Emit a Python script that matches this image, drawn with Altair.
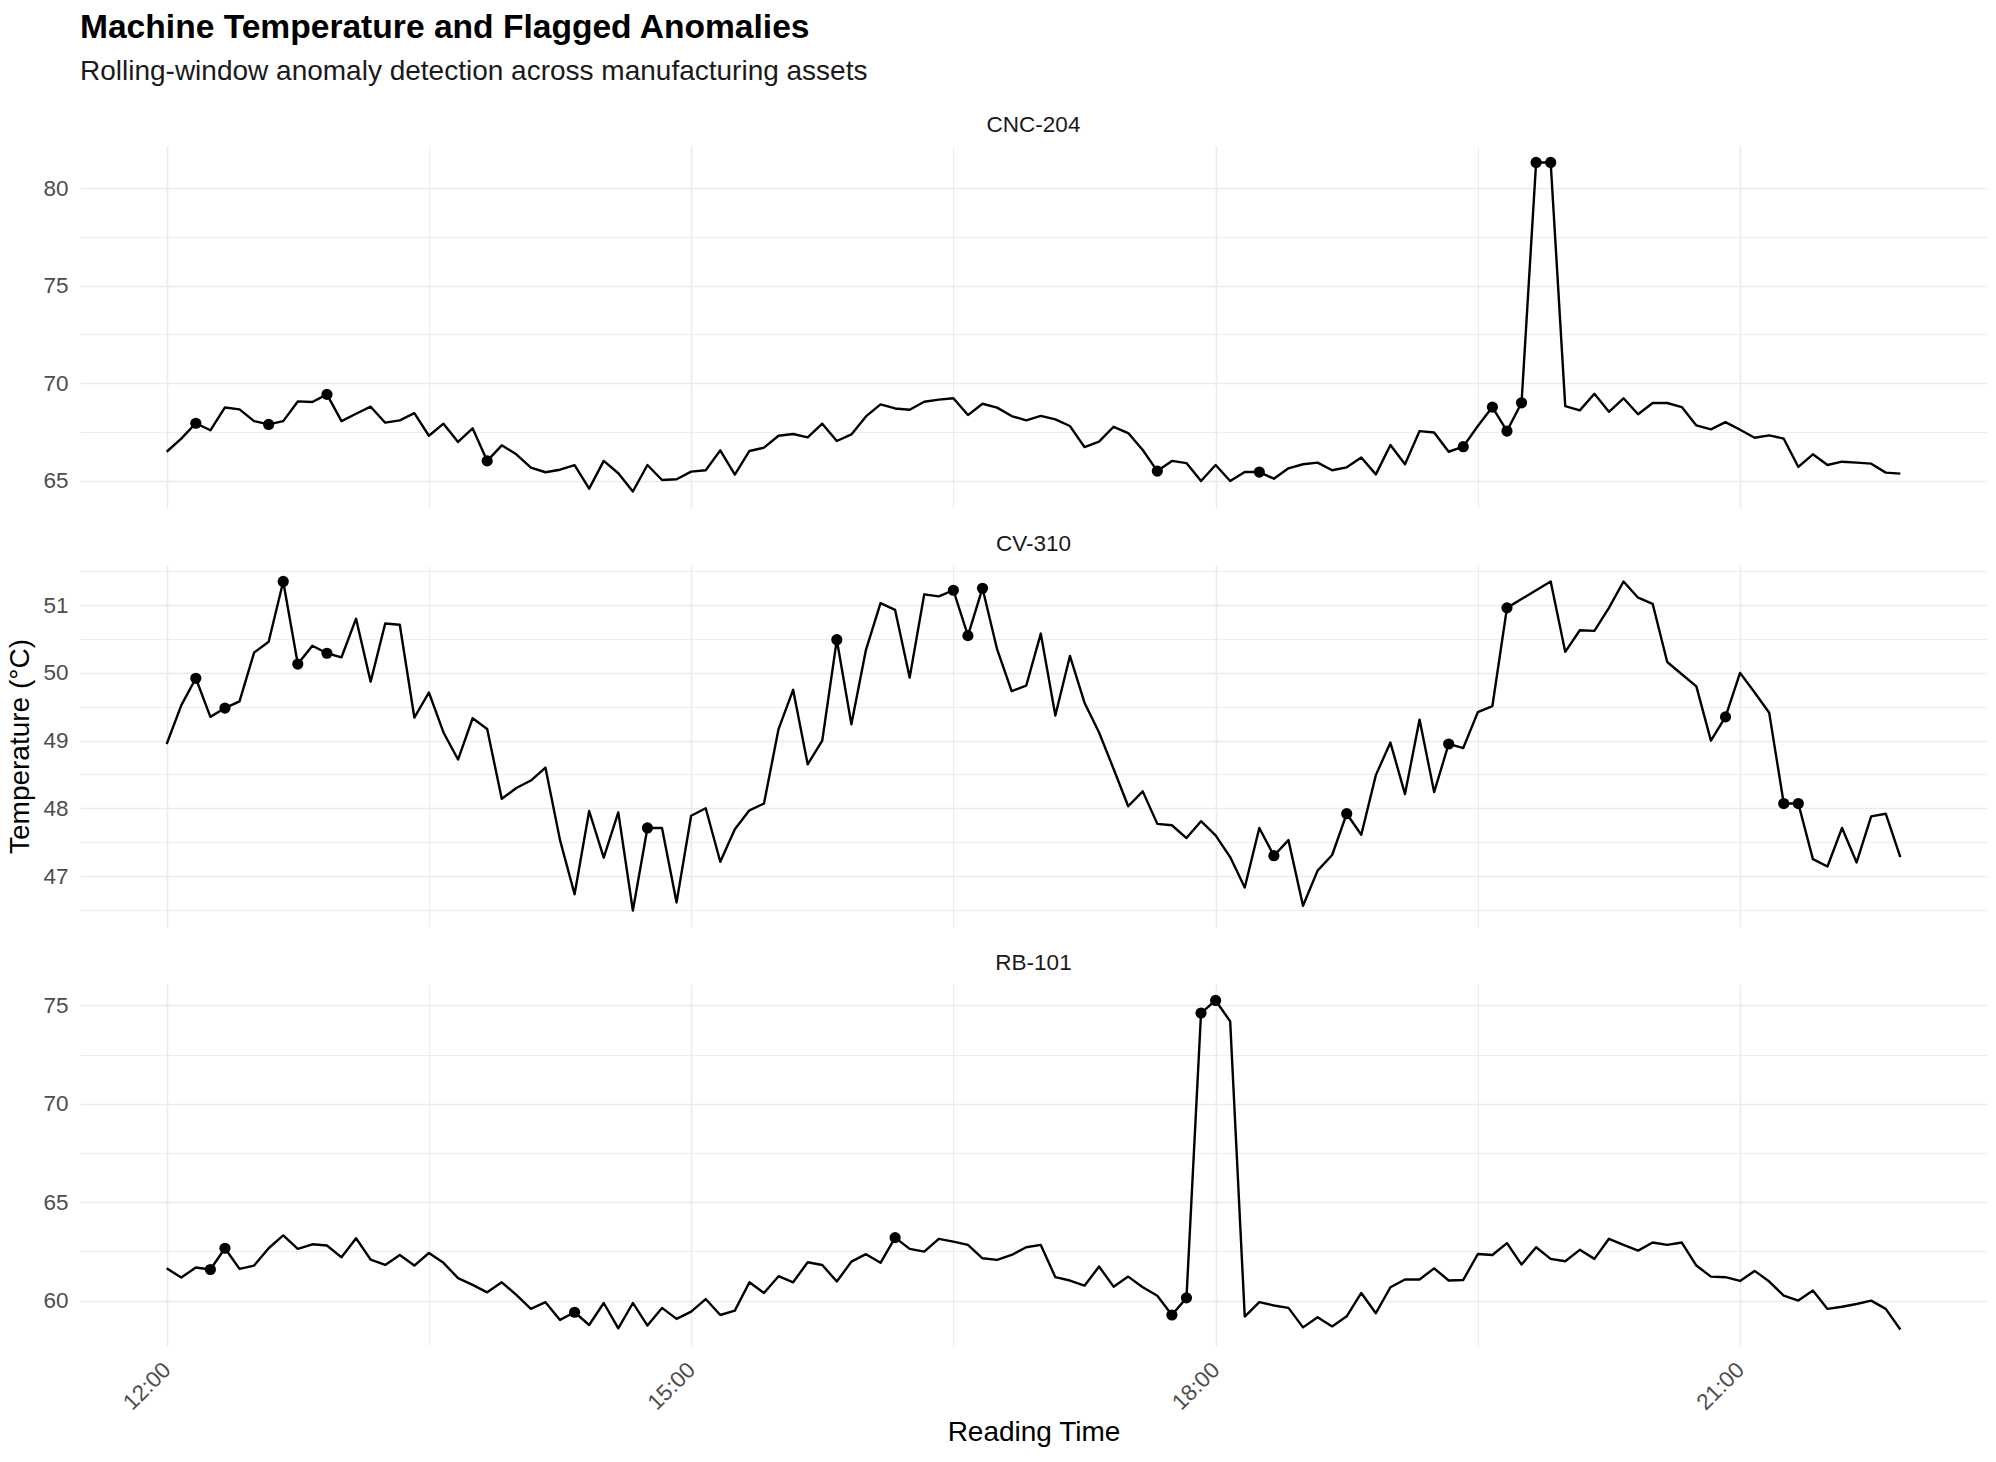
import altair as alt
import pandas as pd

FONT = "Liberation Sans"

# Readings every 5 minutes from 12:00 to 21:55
reading_start = "2024-03-15 12:00"
reading_step = "5min"

cnc_204_temp = [
    66.48, 67.15, 67.94, 67.58, 68.75, 68.65, 68.05, 67.88, 68.05, 69.06,
    69.03, 69.42, 68.05, 68.43, 68.79, 67.97, 68.09, 68.46, 67.30, 67.92,
    66.98, 67.68, 66.01, 66.81, 66.35, 65.67, 65.43, 65.56, 65.79, 64.59,
    66.01, 65.38, 64.44, 65.80, 65.03, 65.07, 65.46, 65.53, 66.55, 65.31,
    66.52, 66.69, 67.30, 67.39, 67.22, 67.92, 67.03, 67.37, 68.29, 68.91,
    68.70, 68.63, 69.04, 69.15, 69.22, 68.36, 68.94, 68.74, 68.31, 68.09,
    68.32, 68.14, 67.80, 66.72, 67.00, 67.76, 67.44, 66.57, 65.49, 66.01,
    65.90, 64.98, 65.80, 64.98, 65.44, 65.44, 65.10, 65.63, 65.84, 65.92,
    65.53, 65.68, 66.19, 65.32, 66.83, 65.84, 67.54, 67.47, 66.48, 66.74,
    67.80, 68.77, 67.54, 68.99, 81.31, 81.31, 68.82, 68.60, 69.45, 68.53,
    69.22, 68.40, 68.98, 68.98, 68.77, 67.83, 67.63, 68.00, 67.61, 67.20,
    67.32, 67.15, 65.70, 66.35, 65.80, 65.97, 65.92, 65.87, 65.41, 65.36,
]

cv_310_temp = [
    48.95, 49.52, 49.92, 49.35, 49.48, 49.58, 50.30, 50.46, 51.35, 50.13,
    50.40, 50.29, 50.23, 50.80, 49.87, 50.73, 50.71, 49.34, 49.71, 49.12,
    48.72, 49.33, 49.17, 48.14, 48.30, 48.41, 48.60, 47.53, 46.73, 47.96,
    47.27, 47.94, 46.49, 47.71, 47.71, 46.61, 47.89, 48.00, 47.21, 47.69,
    47.97, 48.07, 49.17, 49.75, 48.65, 49.00, 50.49, 49.24, 50.34, 51.03,
    50.93, 49.93, 51.16, 51.13, 51.22, 50.55, 51.25, 50.35, 49.73, 49.81,
    50.58, 49.37, 50.25, 49.56, 49.12, 48.58, 48.03, 48.25, 47.77, 47.75,
    47.56, 47.81, 47.60, 47.28, 46.83, 47.71, 47.30, 47.53, 46.56, 47.08,
    47.31, 47.92, 47.61, 48.49, 48.97, 48.21, 49.31, 48.24, 48.95, 48.89,
    49.42, 49.51, 50.96, 51.09, 51.22, 51.35, 50.31, 50.63, 50.62, 50.96,
    51.35, 51.11, 51.02, 50.16, 49.98, 49.80, 49.00, 49.35, 50.00, 49.71,
    49.41, 48.07, 48.07, 47.25, 47.14, 47.71, 47.20, 47.88, 47.92, 47.28,
]

rb_101_temp = [
    61.64, 61.17, 61.68, 61.58, 62.66, 61.61, 61.78, 62.66, 63.31, 62.63,
    62.86, 62.80, 62.20, 63.17, 62.08, 61.81, 62.32, 61.78, 62.42, 61.92,
    61.14, 60.80, 60.42, 60.93, 60.29, 59.58, 59.92, 59.02, 59.41, 58.76,
    59.88, 58.59, 59.88, 58.73, 59.63, 59.07, 59.44, 60.08, 59.27, 59.49,
    60.93, 60.39, 61.24, 60.93, 61.95, 61.81, 60.97, 61.98, 62.36, 61.92,
    63.20, 62.63, 62.49, 63.14, 63.00, 62.83, 62.15, 62.07, 62.32, 62.71,
    62.83, 61.19, 61.02, 60.76, 61.73, 60.71, 61.22, 60.68, 60.25, 59.27,
    60.14, 74.61, 75.25, 74.19, 59.19, 59.92, 59.75, 59.63, 58.64, 59.15,
    58.69, 59.20, 60.39, 59.36, 60.68, 61.07, 61.07, 61.64, 61.02, 61.05,
    62.37, 62.32, 62.92, 61.83, 62.71, 62.12, 62.00, 62.58, 62.12, 63.14,
    62.83, 62.54, 62.95, 62.83, 62.95, 61.78, 61.22, 61.19, 61.00, 61.51,
    60.97, 60.25, 60.00, 60.51, 59.58, 59.69, 59.83, 60.00, 59.58, 58.53,
]

# Positions (reading index) flagged by the rolling-window detector
cnc_204_flagged = [2, 7, 11, 22, 68, 75, 89, 91, 92, 93, 94, 95]
cv_310_flagged = [2, 4, 8, 9, 11, 33, 46, 54, 55, 56, 76, 81, 88, 92, 107, 111, 112]
rb_101_flagged = [3, 4, 28, 50, 69, 70, 71, 72]

# Axis breaks (majors carry labels, half-steps are minor grid lines)
x_breaks = ["12:00", "13:30", "15:00", "16:30", "18:00", "19:30", "21:00"]
cnc_204_y_breaks = [65, 67.5, 70, 72.5, 75, 77.5, 80]
cv_310_y_breaks = [46.5, 47, 47.5, 48, 48.5, 49, 49.5, 50, 50.5, 51, 51.5]
rb_101_y_breaks = [60, 62.5, 65, 67.5, 70, 72.5, 75]

GRID = "#EBEBEB"
PANEL_W = 1907
PANEL_H = 362

times = pd.date_range(reading_start, periods=len(cnc_204_temp), freq=reading_step)
time_strings = list(times.strftime("%Y-%m-%dT%H:%M:%S"))
span = times[-1] - times[0]


def as_datetime(ts):
    return alt.DateTime(year=ts.year, month=ts.month, date=ts.day,
                        hours=ts.hour, minutes=ts.minute, seconds=ts.second)


day = times[0].strftime("%Y-%m-%d")
x_values = [as_datetime(pd.Timestamp(f"{day} {b}")) for b in x_breaks]
x_scale = alt.Scale(domain=[as_datetime(times[0] - 0.05 * span),
                            as_datetime(times[-1] + 0.05 * span)])


def panel(name, temps, flagged, y_breaks, major_step, bottom, show_y_title):
    df = pd.DataFrame({
        "time": time_strings,
        "temp": temps,
        "flagged": [i in flagged for i in range(len(temps))],
    })
    lo, hi = min(temps), max(temps)
    pad = 0.05 * (hi - lo)
    y_scale = alt.Scale(domain=[lo - pad, hi + pad], nice=False, zero=False)

    major_y = f"abs(datum.value / {major_step} - round(datum.value / {major_step})) < 1e-6"
    y_axis = alt.Axis(
        values=y_breaks,
        format=".0f",
        labelExpr=f"{major_y} ? datum.label : ''",
        grid=True, gridColor=GRID,
        gridWidth={"condition": {"test": major_y, "value": 1.6}, "value": 0.9},
        domain=False, ticks=False,
        labelFont=FONT, labelFontSize=22.5, labelColor="#4D4D4D", labelPadding=12,
        title="Temperature (°C)", titleFont=FONT, titleFontSize=28,
        titleFontWeight="normal", titleColor="#000000", titlePadding=8,
        titleOpacity=1 if show_y_title else 0,
    )

    major_x = "minutes(datum.value) === 0 && hours(datum.value) % 3 === 0"
    x_common = dict(
        values=x_values,
        grid=True, gridColor=GRID,
        gridWidth={"condition": {"test": major_x, "value": 1.6}, "value": 0.9},
        domain=False, ticks=False,
    )
    if bottom:
        x_axis = alt.Axis(
            **x_common,
            format="%H:%M",
            labelExpr=f"{major_x} ? datum.label : ''",
            labelAngle=-45, labelAlign="right", labelBaseline="middle",
            labelFont=FONT, labelFontSize=22.5, labelColor="#4D4D4D", labelPadding=20,
            title="Reading Time", titleFont=FONT, titleFontSize=28,
            titleFontWeight="normal", titleColor="#000000", titlePadding=5,
        )
    else:
        x_axis = alt.Axis(**x_common, labels=False, title=None)

    base = alt.Chart(df).encode(
        x=alt.X("time:T", scale=x_scale, axis=x_axis),
        y=alt.Y("temp:Q", scale=y_scale, axis=y_axis),
    )
    line = base.mark_line(color="#000000", strokeWidth=2.4, strokeJoin="round")
    dots = base.transform_filter("datum.flagged").mark_circle(
        color="#000000", size=125, opacity=1
    )
    return alt.layer(line, dots).properties(
        width=PANEL_W, height=PANEL_H,
        title=alt.TitleParams(name, font=FONT, fontSize=22.5, fontWeight="normal",
                              color="#1A1A1A", anchor="middle", offset=10),
    )


p1 = panel("CNC-204", cnc_204_temp, cnc_204_flagged, cnc_204_y_breaks, 5, False, False)
p2 = panel("CV-310", cv_310_temp, cv_310_flagged, cv_310_y_breaks, 1, False, True)
p3 = panel("RB-101", rb_101_temp, rb_101_flagged, rb_101_y_breaks, 5, True, False)

chart = alt.vconcat(p1, p2, p3, spacing=24).properties(
    title=alt.TitleParams(
        text="Machine Temperature and Flagged Anomalies",
        subtitle="Rolling-window anomaly detection across manufacturing assets",
        anchor="start", font=FONT, fontSize=33.6, fontWeight="bold", color="#000000",
        subtitleFont=FONT, subtitleFontSize=28, subtitleColor="#1A1A1A",
        subtitlePadding=14, offset=27, dx=73,
    ),
    padding={"left": 6, "top": 10, "right": 5, "bottom": 5},
    background="white",
).configure_view(stroke=None)

chart.save("out.html", embed_options={"renderer": "svg", "actions": False})
